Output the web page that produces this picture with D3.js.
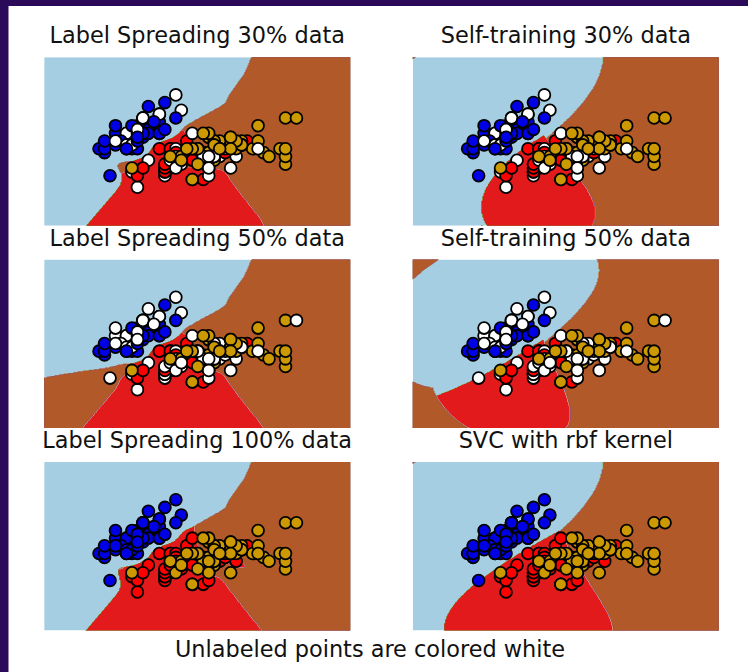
<!DOCTYPE html>
<html>
<head>
<meta charset="utf-8">
<script src="https://cdn.jsdelivr.net/npm/d3@7"></script>
<style>
  html, body { margin: 0; padding: 0; background: #ffffff; }
  svg { display: block; }
  text { font-family: "DejaVu Sans", sans-serif; }
</style>
</head>
<body>
<svg id="chart" width="748" height="672"></svg>
<script>
// ---------------------------------------------------------------------------
// Iris data set: sepal length / sepal width and species (0 setosa, 1 versicolor, 2 virginica)
// ---------------------------------------------------------------------------
const sepalLength = [
  5.1,4.9,4.7,4.6,5.0,5.4,4.6,5.0,4.4,4.9, 5.4,4.8,4.8,4.3,5.8,5.7,5.4,5.1,5.7,5.1,
  5.4,5.1,4.6,5.1,4.8,5.0,5.0,5.2,5.2,4.7, 4.8,5.4,5.2,5.5,4.9,5.0,5.5,4.9,4.4,5.1,
  5.0,4.5,4.4,5.0,5.1,4.8,5.1,4.6,5.3,5.0, 7.0,6.4,6.9,5.5,6.5,5.7,6.3,4.9,6.6,5.2,
  5.0,5.9,6.0,6.1,5.6,6.7,5.6,5.8,6.2,5.6, 5.9,6.1,6.3,6.1,6.4,6.6,6.8,6.7,6.0,5.7,
  5.5,5.5,5.8,6.0,5.4,6.0,6.7,6.3,5.6,5.5, 5.5,6.1,5.8,5.0,5.6,5.7,5.7,6.2,5.1,5.7,
  6.3,5.8,7.1,6.3,6.5,7.6,4.9,7.3,6.7,7.2, 6.5,6.4,6.8,5.7,5.8,6.4,6.5,7.7,7.7,6.0,
  6.9,5.6,7.7,6.3,6.7,7.2,6.2,6.1,6.4,7.2, 7.4,7.9,6.4,6.3,6.1,7.7,6.3,6.4,6.0,6.9,
  6.7,6.9,5.8,6.8,6.7,6.7,6.3,6.5,6.2,5.9
];
const sepalWidth = [
  3.5,3.0,3.2,3.1,3.6,3.9,3.4,3.4,2.9,3.1, 3.7,3.4,3.0,3.0,4.0,4.4,3.9,3.5,3.8,3.8,
  3.4,3.7,3.6,3.3,3.4,3.0,3.4,3.5,3.4,3.2, 3.1,3.4,4.1,4.2,3.1,3.2,3.5,3.6,3.0,3.4,
  3.5,2.3,3.2,3.5,3.8,3.0,3.8,3.2,3.7,3.3, 3.2,3.2,3.1,2.3,2.8,2.8,3.3,2.4,2.9,2.7,
  2.0,3.0,2.2,2.9,2.9,3.1,3.0,2.7,2.2,2.5, 3.2,2.8,2.5,2.8,2.9,3.0,2.8,3.0,2.9,2.6,
  2.4,2.4,2.7,2.7,3.0,3.4,3.1,2.3,3.0,2.5, 2.6,3.0,2.6,2.3,2.7,3.0,2.9,2.9,2.5,2.8,
  3.3,2.7,3.0,2.9,3.0,3.0,2.5,2.9,2.5,3.6, 3.2,2.7,3.0,2.5,2.8,3.2,3.0,3.8,2.6,2.2,
  3.2,2.8,2.8,2.7,3.3,3.2,2.8,3.0,2.8,3.0, 2.8,3.8,2.8,2.8,2.6,3.0,3.4,3.1,3.0,3.1,
  3.1,3.1,2.7,3.2,3.3,3.0,2.5,3.0,3.4,3.0
];
const species = [
  0,0,0,0,0,0,0,0,0,0,0,0,0,0,0,0,0,0,0,0,0,0,0,0,0,
  0,0,0,0,0,0,0,0,0,0,0,0,0,0,0,0,0,0,0,0,0,0,0,0,0,
  1,1,1,1,1,1,1,1,1,1,1,1,1,1,1,1,1,1,1,1,1,1,1,1,1,
  1,1,1,1,1,1,1,1,1,1,1,1,1,1,1,1,1,1,1,1,1,1,1,1,1,
  2,2,2,2,2,2,2,2,2,2,2,2,2,2,2,2,2,2,2,2,2,2,2,2,2,
  2,2,2,2,2,2,2,2,2,2,2,2,2,2,2,2,2,2,2,2,2,2,2,2,2
];
// samples whose label is hidden (drawn white)
const unlabeled30 = [14,15,16,24,26,30,34,43,46,47,53,54,55,57,59,60,61,63,64,67,69,
  75,76,77,78,79,82,85,87,92,94,95,97,99,101,104,108,113,126,129,132,133,146];
const unlabeled50 = [4,6,9,14,15,16,22,24,26,29,30,32,34,40,41,43,46,47,48,49,51,53,54,
  55,57,58,59,60,61,63,64,65,67,69,71,75,76,77,78,79,80,81,82,85,87,90,92,94,95,97,99,
  101,104,108,110,113,115,124,126,127,129,131,132,133,139,141,142,146];

const panelTitles = [
  "Label Spreading 30% data", "Self-training 30% data",
  "Label Spreading 50% data", "Self-training 50% data",
  "Label Spreading 100% data", "SVC with rbf kernel"
];
const figureCaption = "Unlabeled points are colored white";
const contourLevels = [0, 0.25, 0.5, 0.75, 1, 1.25, 1.5, 1.75, 2];
const pointColors = { "-1": "#ffffff", "0": "rgb(0,0,230)", "1": "rgb(255,0,0)", "2": "rgb(204,153,0)" };

// ---------------------------------------------------------------------------
// Label vectors
// ---------------------------------------------------------------------------
const N = sepalLength.length;
function hideLabels(hidden) {
  const y = species.slice();
  hidden.forEach(i => { y[i] = -1; });
  return y;
}
const y30 = hideLabels(unlabeled30);
const y50 = hideLabels(unlabeled50);

// ---------------------------------------------------------------------------
// Label spreading (rbf kernel, gamma 20, alpha 0.2)
// ---------------------------------------------------------------------------
function fitLabelSpreading(y, gamma = 20, alpha = 0.2, maxIter = 30, tol = 1e-3) {
  const W = [];
  const deg = new Float64Array(N);
  for (let i = 0; i < N; i++) {
    const row = new Float64Array(N);
    for (let j = 0; j < N; j++) {
      if (i === j) continue;
      const dx = sepalLength[i] - sepalLength[j], dy = sepalWidth[i] - sepalWidth[j];
      row[j] = Math.exp(-gamma * (dx * dx + dy * dy));
      deg[i] += row[j];
    }
    W.push(row);
  }
  const sd = Array.from(deg, d => d > 0 ? Math.sqrt(d) : 1);
  for (let i = 0; i < N; i++) for (let j = 0; j < N; j++) W[i][j] /= sd[i] * sd[j];

  let F = [];
  for (let i = 0; i < N; i++) { const r = [0, 0, 0]; if (y[i] >= 0) r[y[i]] = 1; F.push(r); }
  const Ystatic = F.map(r => r.map(v => v * (1 - alpha)));
  let prev = F.map(() => [0, 0, 0]);
  for (let it = 0; it < maxIter; it++) {
    let diff = 0;
    for (let i = 0; i < N; i++) for (let c = 0; c < 3; c++) diff += Math.abs(F[i][c] - prev[i][c]);
    if (diff < tol) break;
    prev = F;
    const next = [];
    for (let i = 0; i < N; i++) {
      const r = [0, 0, 0];
      const Wi = W[i];
      for (let j = 0; j < N; j++) {
        const w = Wi[j];
        if (w === 0) continue;
        r[0] += w * F[j][0]; r[1] += w * F[j][1]; r[2] += w * F[j][2];
      }
      next.push(r.map((v, c) => alpha * v + Ystatic[i][c]));
    }
    F = next;
  }
  F = F.map(r => { const s = r[0] + r[1] + r[2]; return s === 0 ? r : r.map(v => v / s); });
  const F0 = Float64Array.from(F, r => r[0]), F1 = Float64Array.from(F, r => r[1]), F2 = Float64Array.from(F, r => r[2]);
  return (px, py) => {
    let s0 = 0, s1 = 0, s2 = 0;
    for (let i = 0; i < N; i++) {
      const dx = px - sepalLength[i], dy = py - sepalWidth[i];
      const k = Math.exp(-gamma * (dx * dx + dy * dy));
      s0 += k * F0[i]; s1 += k * F1[i]; s2 += k * F2[i];
    }
    let best = 0, bv = s0;
    if (s1 > bv) { best = 1; bv = s1; }
    if (s2 > bv) { best = 2; }
    return best;
  };
}

// ---------------------------------------------------------------------------
// SVC (rbf kernel, gamma 0.5, C 1), one-vs-one, SMO solver
// ---------------------------------------------------------------------------
const SVC_GAMMA = 0.5, SVC_C = 1;
const Kfull = [];
for (let i = 0; i < N; i++) {
  const row = new Float64Array(N);
  for (let j = 0; j < N; j++) {
    const dx = sepalLength[i] - sepalLength[j], dy = sepalWidth[i] - sepalWidth[j];
    row[j] = Math.exp(-SVC_GAMMA * (dx * dx + dy * dy));
  }
  Kfull.push(row);
}

function smo(gIdx, yb) {
  const n = gIdx.length, C = SVC_C, TAU = 1e-12, eps = 1e-3;
  const Q = [];
  for (let a = 0; a < n; a++) {
    const row = new Float64Array(n), Ka = Kfull[gIdx[a]];
    for (let b = 0; b < n; b++) row[b] = yb[a] * yb[b] * Ka[gIdx[b]];
    Q.push(row);
  }
  const alpha = new Float64Array(n), G = new Float64Array(n).fill(-1);
  const up = t => alpha[t] >= C, low = t => alpha[t] <= 0;
  for (let iter = 0; iter < 200000; iter++) {
    let Gmax = -Infinity, i = -1;
    for (let t = 0; t < n; t++) {
      if (yb[t] === 1) { if (!up(t) && -G[t] >= Gmax) { Gmax = -G[t]; i = t; } }
      else { if (!low(t) && G[t] >= Gmax) { Gmax = G[t]; i = t; } }
    }
    if (i < 0) break;
    const Qi = Q[i];
    let Gmax2 = -Infinity, j = -1, objMin = Infinity;
    for (let t = 0; t < n; t++) {
      if (yb[t] === 1) {
        if (!low(t)) {
          const gd = Gmax + G[t];
          if (G[t] >= Gmax2) Gmax2 = G[t];
          if (gd > 0) {
            let qc = 2 - 2 * yb[i] * Qi[t]; if (qc <= 0) qc = TAU;
            const od = -(gd * gd) / qc;
            if (od <= objMin) { j = t; objMin = od; }
          }
        }
      } else {
        if (!up(t)) {
          const gd = Gmax - G[t];
          if (-G[t] >= Gmax2) Gmax2 = -G[t];
          if (gd > 0) {
            let qc = 2 + 2 * yb[i] * Qi[t]; if (qc <= 0) qc = TAU;
            const od = -(gd * gd) / qc;
            if (od <= objMin) { j = t; objMin = od; }
          }
        }
      }
    }
    if (Gmax + Gmax2 < eps || j < 0) break;
    const Qj = Q[j];
    const oi = alpha[i], oj = alpha[j];
    if (yb[i] !== yb[j]) {
      let qc = 2 + 2 * Qi[j]; if (qc <= 0) qc = TAU;
      const delta = (-G[i] - G[j]) / qc, diff = alpha[i] - alpha[j];
      alpha[i] += delta; alpha[j] += delta;
      if (diff > 0) { if (alpha[j] < 0) { alpha[j] = 0; alpha[i] = diff; } }
      else { if (alpha[i] < 0) { alpha[i] = 0; alpha[j] = -diff; } }
      if (diff > 0) { if (alpha[i] > C) { alpha[i] = C; alpha[j] = C - diff; } }
      else { if (alpha[j] > C) { alpha[j] = C; alpha[i] = C + diff; } }
    } else {
      let qc = 2 - 2 * Qi[j]; if (qc <= 0) qc = TAU;
      const delta = (G[i] - G[j]) / qc, sum = alpha[i] + alpha[j];
      alpha[i] -= delta; alpha[j] += delta;
      if (sum > C) { if (alpha[i] > C) { alpha[i] = C; alpha[j] = sum - C; } }
      else { if (alpha[j] < 0) { alpha[j] = 0; alpha[i] = sum; } }
      if (sum > C) { if (alpha[j] > C) { alpha[j] = C; alpha[i] = sum - C; } }
      else { if (alpha[i] < 0) { alpha[i] = 0; alpha[j] = sum; } }
    }
    const dai = alpha[i] - oi, daj = alpha[j] - oj;
    for (let k = 0; k < n; k++) G[k] += Qi[k] * dai + Qj[k] * daj;
  }
  let ub = Infinity, lb = -Infinity, sumFree = 0, nFree = 0;
  for (let t = 0; t < n; t++) {
    const yG = yb[t] * G[t];
    if (up(t)) { if (yb[t] === -1) ub = Math.min(ub, yG); else lb = Math.max(lb, yG); }
    else if (low(t)) { if (yb[t] === 1) ub = Math.min(ub, yG); else lb = Math.max(lb, yG); }
    else { nFree++; sumFree += yG; }
  }
  const rho = nFree > 0 ? sumFree / nFree : (ub + lb) / 2;
  const sv = [], coef = [];
  for (let t = 0; t < n; t++) if (alpha[t] > 0) { sv.push(gIdx[t]); coef.push(alpha[t] * yb[t]); }
  return { sv: Int32Array.from(sv), coef: Float64Array.from(coef), rho };
}

function decTrain(m, g) {
  const Kg = Kfull[g];
  let s = -m.rho;
  for (let t = 0; t < m.sv.length; t++) s += m.coef[t] * Kg[m.sv[t]];
  return s;
}

function sigmoidTrain(dec, lab) {
  const l = dec.length;
  let prior1 = 0, prior0 = 0;
  for (let i = 0; i < l; i++) lab[i] > 0 ? prior1++ : prior0++;
  const hi = (prior1 + 1) / (prior1 + 2), lo = 1 / (prior0 + 2);
  const t = Array.from(lab, v => v > 0 ? hi : lo);
  let A = 0, B = Math.log((prior0 + 1) / (prior1 + 1));
  const fOf = (a, b) => {
    let f = 0;
    for (let i = 0; i < l; i++) {
      const z = dec[i] * a + b;
      f += z >= 0 ? t[i] * z + Math.log(1 + Math.exp(-z)) : (t[i] - 1) * z + Math.log(1 + Math.exp(z));
    }
    return f;
  };
  let fval = fOf(A, B);
  for (let it = 0; it < 100; it++) {
    let h11 = 1e-12, h22 = 1e-12, h21 = 0, g1 = 0, g2 = 0;
    for (let i = 0; i < l; i++) {
      const z = dec[i] * A + B;
      let p, q;
      if (z >= 0) { p = Math.exp(-z) / (1 + Math.exp(-z)); q = 1 / (1 + Math.exp(-z)); }
      else { p = 1 / (1 + Math.exp(z)); q = Math.exp(z) / (1 + Math.exp(z)); }
      const d2 = p * q;
      h11 += dec[i] * dec[i] * d2; h22 += d2; h21 += dec[i] * d2;
      const d1 = t[i] - p;
      g1 += dec[i] * d1; g2 += d1;
    }
    if (Math.abs(g1) < 1e-5 && Math.abs(g2) < 1e-5) break;
    const det = h11 * h22 - h21 * h21;
    const dA = -(h22 * g1 - h21 * g2) / det, dB = -(-h21 * g1 + h11 * g2) / det;
    const gd = g1 * dA + g2 * dB;
    let step = 1;
    while (step >= 1e-10) {
      const nA = A + step * dA, nB = B + step * dB, nf = fOf(nA, nB);
      if (nf < fval + 0.0001 * step * gd) { A = nA; B = nB; fval = nf; break; }
      step /= 2;
    }
    if (step < 1e-10) break;
  }
  return [A, B];
}

function cvDecisions(gIdx, yb) {
  const l = gIdx.length, dec = new Float64Array(l);
  for (let f = 0; f < 5; f++) {
    const tr = [], ty = [];
    for (let p = 0; p < l; p++) if (p % 5 !== f) { tr.push(gIdx[p]); ty.push(yb[p]); }
    const hasPos = ty.some(v => v > 0), hasNeg = ty.some(v => v < 0);
    let m = null;
    if (hasPos && hasNeg) m = smo(tr, ty);
    for (let p = f; p < l; p += 5) {
      dec[p] = m ? decTrain(m, gIdx[p]) : (hasPos ? 1 : (hasNeg ? -1 : 0));
    }
  }
  return dec;
}

function fitSVC(ids, labs, withProb) {
  const classes = Array.from(new Set(labs)).sort((a, b) => a - b);
  const pairs = [];
  for (let a = 0; a < classes.length; a++) {
    for (let b = a + 1; b < classes.length; b++) {
      const gIdx = [], yb = [];
      ids.forEach((g, p) => {
        if (labs[p] === classes[a]) { gIdx.push(g); yb.push(1); }
        else if (labs[p] === classes[b]) { gIdx.push(g); yb.push(-1); }
      });
      const m = smo(gIdx, yb);
      m.a = a; m.b = b;
      if (withProb) [m.A, m.B] = sigmoidTrain(cvDecisions(gIdx, yb), yb);
      pairs.push(m);
    }
  }
  return { classes, pairs };
}

function coupleProbs(k, r) {
  const Q = Array.from({ length: k }, () => new Float64Array(k));
  const p = new Float64Array(k), Qp = new Float64Array(k);
  for (let t = 0; t < k; t++) {
    p[t] = 1 / k; Q[t][t] = 0;
    for (let j = 0; j < t; j++) { Q[t][t] += r[j][t] * r[j][t]; Q[t][j] = Q[j][t]; }
    for (let j = t + 1; j < k; j++) { Q[t][t] += r[j][t] * r[j][t]; Q[t][j] = -r[j][t] * r[t][j]; }
  }
  const eps = 0.005 / k;
  for (let it = 0; it < 100; it++) {
    let pQp = 0;
    for (let t = 0; t < k; t++) { Qp[t] = 0; for (let j = 0; j < k; j++) Qp[t] += Q[t][j] * p[j]; pQp += p[t] * Qp[t]; }
    let maxErr = 0;
    for (let t = 0; t < k; t++) maxErr = Math.max(maxErr, Math.abs(Qp[t] - pQp));
    if (maxErr < eps) break;
    for (let t = 0; t < k; t++) {
      const diff = (-Qp[t] + pQp) / Q[t][t];
      p[t] += diff;
      pQp = (pQp + diff * (diff * Q[t][t] + 2 * Qp[t])) / (1 + diff) / (1 + diff);
      for (let j = 0; j < k; j++) { Qp[j] = (Qp[j] + diff * Q[t][j]) / (1 + diff); p[j] /= (1 + diff); }
    }
  }
  return p;
}

function probaTrain(model, g) {
  const k = model.classes.length;
  const r = Array.from({ length: k }, () => new Float64Array(k));
  model.pairs.forEach(m => {
    const z = decTrain(m, g) * m.A + m.B;
    let s = z >= 0 ? Math.exp(-z) / (1 + Math.exp(-z)) : 1 / (1 + Math.exp(z));
    s = Math.min(Math.max(s, 1e-7), 1 - 1e-7);
    r[m.a][m.b] = s; r[m.b][m.a] = 1 - s;
  });
  return coupleProbs(k, r);
}

function svcPredictor(model) {
  const k = model.classes.length;
  const kx = new Float64Array(N);
  return (px, py) => {
    for (let i = 0; i < N; i++) {
      const dx = px - sepalLength[i], dy = py - sepalWidth[i];
      kx[i] = Math.exp(-SVC_GAMMA * (dx * dx + dy * dy));
    }
    const votes = new Array(k).fill(0);
    model.pairs.forEach(m => {
      let s = -m.rho;
      for (let t = 0; t < m.sv.length; t++) s += m.coef[t] * kx[m.sv[t]];
      if (s > 0) votes[m.a]++; else votes[m.b]++;
    });
    let best = 0;
    for (let c = 1; c < k; c++) if (votes[c] > votes[best]) best = c;
    return model.classes[best];
  };
}

function fitSelfTraining(y, threshold = 0.75, maxIter = 10) {
  const trans = y.slice();
  const has = trans.map(v => v !== -1);
  for (let it = 0; it < maxIter && has.some(v => !v); it++) {
    const ids = [], labs = [];
    for (let i = 0; i < N; i++) if (has[i]) { ids.push(i); labs.push(trans[i]); }
    const model = fitSVC(ids, labs, true);
    const picked = [];
    for (let i = 0; i < N; i++) {
      if (has[i]) continue;
      const p = probaTrain(model, i);
      let best = 0;
      for (let c = 1; c < p.length; c++) if (p[c] > p[best]) best = c;
      if (p[best] > threshold) picked.push([i, model.classes[best]]);
    }
    if (picked.length === 0) break;
    picked.forEach(([i, c]) => { trans[i] = c; has[i] = true; });
  }
  const ids = [], labs = [];
  for (let i = 0; i < N; i++) if (has[i]) { ids.push(i); labs.push(trans[i]); }
  return svcPredictor(fitSVC(ids, labs, false));
}

// ---------------------------------------------------------------------------
// Mesh
// ---------------------------------------------------------------------------
const h = 0.02;
const xMin = d3.min(sepalLength) - 1, xMax = d3.max(sepalLength) + 1;
const yMin = d3.min(sepalWidth) - 1, yMax = d3.max(sepalWidth) + 1;
const nx = Math.ceil((xMax - xMin) / h - 1e-9);
const ny = Math.ceil((yMax - yMin) / h - 1e-9);

function meshPredict(predict) {
  const Z = new Float64Array(nx * ny);
  for (let j = 0; j < ny; j++) {
    const py = yMin + j * h;
    for (let i = 0; i < nx; i++) Z[i + j * nx] = predict(xMin + i * h, py);
  }
  return Z;
}

const panels = [
  { predict: fitLabelSpreading(y30), labels: y30 },
  { predict: fitSelfTraining(y30), labels: y30 },
  { predict: fitLabelSpreading(y50), labels: y50 },
  { predict: fitSelfTraining(y50), labels: y50 },
  { predict: fitLabelSpreading(species), labels: species },
  { predict: svcPredictor(fitSVC(d3.range(N), species, false)), labels: species }
];

// ---------------------------------------------------------------------------
// Drawing
// ---------------------------------------------------------------------------
const svg = d3.select("#chart");
svg.append("rect").attr("width", 748).attr("height", 672).attr("fill", "#ffffff");
svg.append("rect").attr("x", 0).attr("y", 0).attr("width", 8.5).attr("height", 672).attr("fill", "#2c0a5a");
svg.append("rect").attr("x", 0).attr("y", 0).attr("width", 748).attr("height", 6).attr("fill", "#2c0a5a");

const colX = [44.2, 412.8], rowY = [57.2, 259.6, 462.0];
const panelW = 306, panelH = 168.5;
// fill colour of each contour band (Paired colormap sampled at band mid-values)
const bandColors = contourLevels.slice(1).map((lv, b) => {
  const mid = (contourLevels[b] + lv) / 2 / contourLevels[contourLevels.length - 1];
  return d3.schemePaired[Math.floor(mid * d3.schemePaired.length)];
});

panels.forEach((panel, idx) => {
  const px = colX[idx % 2], py = rowY[Math.floor(idx / 2)];
  const xs = d3.scaleLinear().domain([xMin, xMin + (nx - 1) * h]).range([px, px + panelW]);
  const ys = d3.scaleLinear().domain([yMin, yMin + (ny - 1) * h]).range([py + panelH, py]);

  const g = svg.append("g");
  const clipId = "clip" + idx;
  g.append("clipPath").attr("id", clipId)
    .append("rect").attr("x", px).attr("y", py).attr("width", panelW).attr("height", panelH);

  const Z = meshPredict(panel.predict);
  const proj = d3.geoTransform({
    point: function (gx, gy) { this.stream.point(xs(xMin + (gx - 0.5) * h), ys(yMin + (gy - 0.5) * h)); }
  });
  const path = d3.geoPath(proj);
  const regions = g.append("g").attr("clip-path", `url(#${clipId})`);
  regions.append("rect").attr("x", px).attr("y", py).attr("width", panelW).attr("height", panelH)
    .attr("fill", bandColors[0]);
  for (let b = 1; b < bandColors.length; b++) {
    const geom = d3.contours().size([nx, ny]).thresholds([contourLevels[b] + 1e-9])(Z)[0];
    regions.append("path").attr("d", path(geom)).attr("fill", bandColors[b]);
  }

  g.append("g").selectAll("circle")
    .data(d3.range(N))
    .join("circle")
    .attr("cx", i => xs(sepalLength[i]))
    .attr("cy", i => ys(sepalWidth[i]))
    .attr("r", 5.9)
    .attr("fill", i => pointColors[String(panel.labels[i])])
    .attr("stroke", "#000000")
    .attr("stroke-width", 1.8);

  g.append("text")
    .attr("x", px + panelW / 2)
    .attr("y", py - 13.8)
    .attr("text-anchor", "middle")
    .attr("font-size", "22.4px")
    .attr("fill", "#111111")
    .text(panelTitles[idx]);
});

svg.append("text")
  .attr("x", 370)
  .attr("y", 656.5)
  .attr("text-anchor", "middle")
  .attr("font-size", "22.4px")
  .attr("fill", "#111111")
  .text(figureCaption);
</script>
</body>
</html>
